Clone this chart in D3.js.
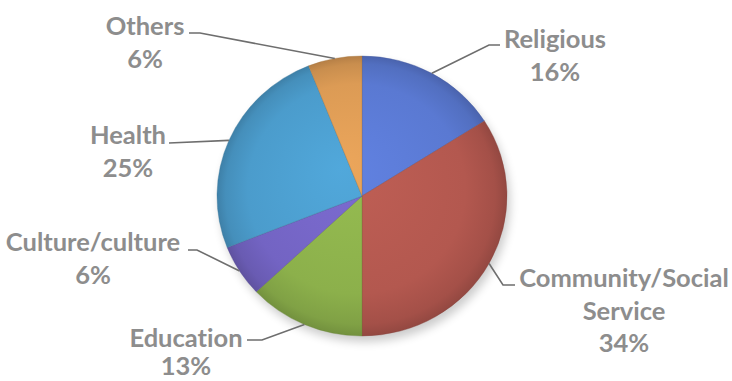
<!DOCTYPE html>
<html>
<head>
<meta charset="utf-8">
<script src="https://cdn.jsdelivr.net/npm/d3@7"></script>
<style>
  html, body { margin: 0; padding: 0; background: #ffffff; }
  svg { display: block; }
  text { font-variant-ligatures: none; font-feature-settings: "liga" 0; }
</style>
</head>
<body>
<svg id="chart" width="732" height="381"></svg>
<script>
// Share of activities by sector (percent), clockwise from 12 o'clock
const categories = ["Religious", "Community/Social Service", "Education", "Culture/culture", "Health", "Others"];
const labelLines = [["Religious"], ["Community/Social", "Service"], ["Education"], ["Culture/culture"], ["Health"], ["Others"]];
const shares = [16, 34, 13, 6, 25, 6];
const sliceColors = ["#5a79d2", "#b3584f", "#8cb04b", "#7364c3", "#4b9ccc", "#dc9b55"];

const W = 732, H = 381;
const cx = 362, cy = 196, ry = 140, rx = 145;
const sx = rx / ry;

const svg = d3.select("#chart");
const defs = svg.append("defs");

// soft drop shadow under the pie
const shadow = defs.append("filter").attr("id", "pieShadow")
  .attr("x", "-20%").attr("y", "-20%").attr("width", "140%").attr("height", "140%");
shadow.append("feGaussianBlur").attr("stdDeviation", 5);

const pie = d3.pie().sort(null).value(d => d.value);
const arcs = pie(categories.map((c, i) => ({ name: c, lines: labelLines[i], value: shares[i], color: sliceColors[i] })));
const arc = d3.arc().innerRadius(0).outerRadius(ry);

// one radial shading per slice: lighter toward the middle, darker at the rim
arcs.forEach((a, i) => {
  const base = d3.color(a.data.color);
  const g = defs.append("radialGradient").attr("id", "grad" + i)
    .attr("gradientUnits", "userSpaceOnUse")
    .attr("cx", 0).attr("cy", 0).attr("r", ry)
    .attr("fx", -ry * 0.15).attr("fy", -ry * 0.2);
  g.append("stop").attr("offset", "0%").attr("stop-color", base.brighter(0.2));
  g.append("stop").attr("offset", "75%").attr("stop-color", base);
  g.append("stop").attr("offset", "93%").attr("stop-color", base.darker(0.25));
  g.append("stop").attr("offset", "100%").attr("stop-color", base.darker(0.55));
});

svg.append("ellipse")
  .attr("cx", cx + 3).attr("cy", cy + 6).attr("rx", rx).attr("ry", ry)
  .attr("fill", "#000").attr("opacity", 0.2)
  .attr("filter", "url(#pieShadow)");

const pieG = svg.append("g").attr("transform", `translate(${cx},${cy}) scale(${sx},1)`);
pieG.selectAll("path.slice")
  .data(arcs)
  .join("path")
  .attr("class", "slice")
  .attr("d", arc)
  .attr("fill", (d, i) => `url(#grad${i})`)
  .attr("stroke", d => d3.color(d.data.color).darker(0.8))
  .attr("stroke-opacity", 0.45)
  .attr("stroke-width", 0.8);

// label placement: text centre, first baseline, elbow of the leader and where it meets the text
const labelLayout = [
  { x: 555, y: 48,  elbow: [489, 45],  end: [500, 45] },
  { x: 624, y: 287, elbow: [503, 285], end: [515, 285] },
  { x: 186, y: 347, elbow: [262, 340], end: [247, 340], lastGap: 28 },
  { x: 93,  y: 251, elbow: [197, 250], end: [188, 250] },
  { x: 128, y: 144, elbow: null,       end: [169, 143] },
  { x: 145, y: 35,  elbow: [200, 33],  end: [189, 33] }
];

function rimPoint(a) {
  const m = (a.startAngle + a.endAngle) / 2;
  return [cx + rx * Math.sin(m), cy - ry * Math.cos(m)];
}

const leaders = svg.append("g");
arcs.forEach((a, i) => {
  const L = labelLayout[i];
  const pts = [rimPoint(a)];
  if (L.elbow) pts.push(L.elbow);
  pts.push(L.end);
  leaders.append("path")
    .attr("d", d3.line()(pts))
    .attr("fill", "none")
    .attr("stroke", "#6e6e6e")
    .attr("stroke-width", 1.6);
});

const lineGap = 32.5;
const labels = svg.append("g")
  .attr("font-family", "Lato, 'Open Sans', sans-serif")
  .attr("font-weight", 700)
  .attr("font-size", 25.5)
  .attr("fill", "#8d8d8d")
  .attr("text-anchor", "middle");

arcs.forEach((a, i) => {
  const L = labelLayout[i];
  const rows = a.data.lines.concat([a.data.value + "%"]);
  rows.forEach((t, k) => {
    const last = k === rows.length - 1 && L.lastGap;
    const y = L.y + (k - (last ? 1 : 0)) * lineGap + (last ? L.lastGap : 0);
    labels.append("text")
      .attr("x", L.x)
      .attr("y", y)
      .text(t);
  });
});
</script>
</body>
</html>
